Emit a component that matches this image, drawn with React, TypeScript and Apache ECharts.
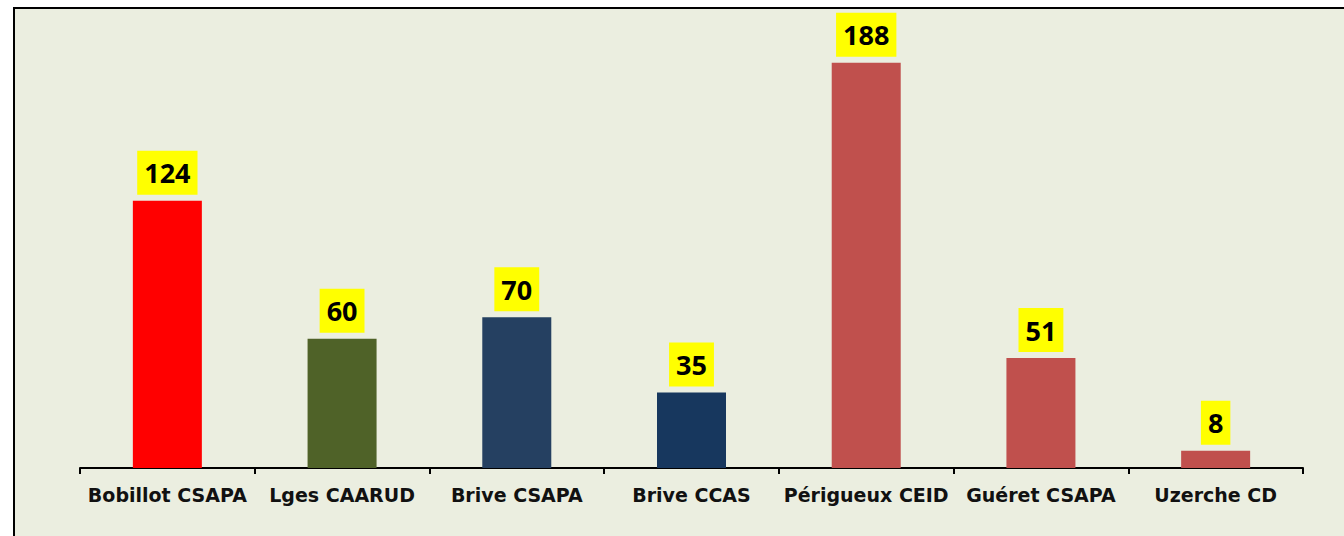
import React, { useEffect, useRef } from "react";
import * as echarts from "echarts";

const categories = [
  "Bobillot CSAPA",
  "Lges CAARUD",
  "Brive CSAPA",
  "Brive CCAS",
  "Périgueux CEID",
  "Guéret CSAPA",
  "Uzerche CD",
];
const values = [124, 60, 70, 35, 188, 51, 8];
const barColors = ["#FF0000", "#4F6228", "#254061", "#17375E", "#C0504D", "#C0504D", "#C0504D"];

export default function App() {
  const ref = useRef<HTMLDivElement>(null);
  useEffect(() => {
    document.body.style.margin = "0";
    const chart = echarts.init(ref.current!, null, { renderer: "svg" });
    chart.setOption({
      animation: false,
      grid: { left: 80, right: 41, top: 37, bottom: 68 },
      xAxis: {
        type: "category",
        data: categories,
        axisLine: { lineStyle: { color: "#000", width: 2 } },
        axisTick: { show: true, length: 6, lineStyle: { color: "#000", width: 2 } },
        axisLabel: {
          color: "#111",
          fontFamily: "DejaVu Sans",
          fontWeight: "bold",
          fontSize: 19,
          margin: 17,
          interval: 0,
        },
      },
      yAxis: { type: "value", min: 0, max: 200, show: false, splitLine: { show: false } },
      series: [
        {
          type: "bar",
          barWidth: 69,
          data: values.map((v, i) => ({ value: v, itemStyle: { color: barColors[i] } })),
          label: {
            show: true,
            position: "top",
            distance: 6,
            color: "#000",
            backgroundColor: "#FFFF00",
            fontFamily: "Open Sans",
            fontWeight: "bold",
            fontSize: 27,
            lineHeight: 28,
            padding: [8, 7, 8, 7],
          },
        },
      ],
    });
    return () => chart.dispose();
  }, []);
  return (
    <div style={{ position: "relative", width: 1344, height: 536, overflow: "hidden", background: "#fff" }}>
      <div
        style={{
          position: "absolute",
          left: 13,
          top: 7,
          width: 1400,
          height: 600,
          border: "2px solid #000",
          background: "#EBEEE0",
        }}
      />
      <div ref={ref} style={{ position: "absolute", left: 0, top: 0, width: 1344, height: 536 }} />
    </div>
  );
}
